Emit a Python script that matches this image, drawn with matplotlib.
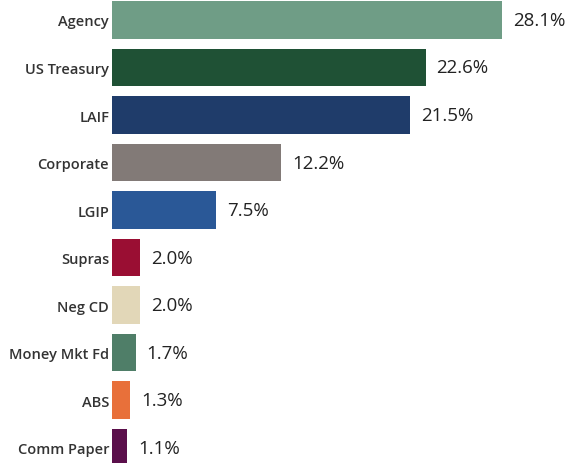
import matplotlib.pyplot as plt
import numpy as np

categories = ['Agency', 'US Treasury', 'LAIF', 'Corporate', 'LGIP', 'Supras',
              'Neg CD', 'Money Mkt Fd', 'ABS', 'Comm Paper']
values = [28.1, 22.6, 21.5, 12.2, 7.5, 2.0, 2.0, 1.7, 1.3, 1.1]
colors = ['#6f9d86', '#1f5135', '#1f3c6a', '#827a77', '#2a5897', '#9a0e33',
          '#e2d7b8', '#4f7e68', '#e8703a', '#5b0f4b']

fig = plt.figure(figsize=(5.67, 4.64), dpi=100)
ax = fig.add_axes([112 / 567, 0, 1 - 112 / 567, 1])

y = np.arange(len(categories))
ax.barh(y, values, height=0.78, color=colors)

for yi, v in zip(y, values):
    ax.text(v + 0.8, yi, f'{v:.1f}%', va='center', ha='left',
            fontsize=13.5, color='#222222', family='Open Sans')

ax.set_yticks(y)
ax.set_yticklabels(categories, fontsize=10.5, color='#333333',
                   family='Open Sans', fontweight='semibold')
ax.tick_params(axis='y', length=0, pad=2)
ax.set_xticks([])
ax.set_xlim(0, 32.8)
ax.set_ylim(9.326, -0.442)
for s in ax.spines.values():
    s.set_visible(False)

fig.savefig('out.png', dpi=100)
